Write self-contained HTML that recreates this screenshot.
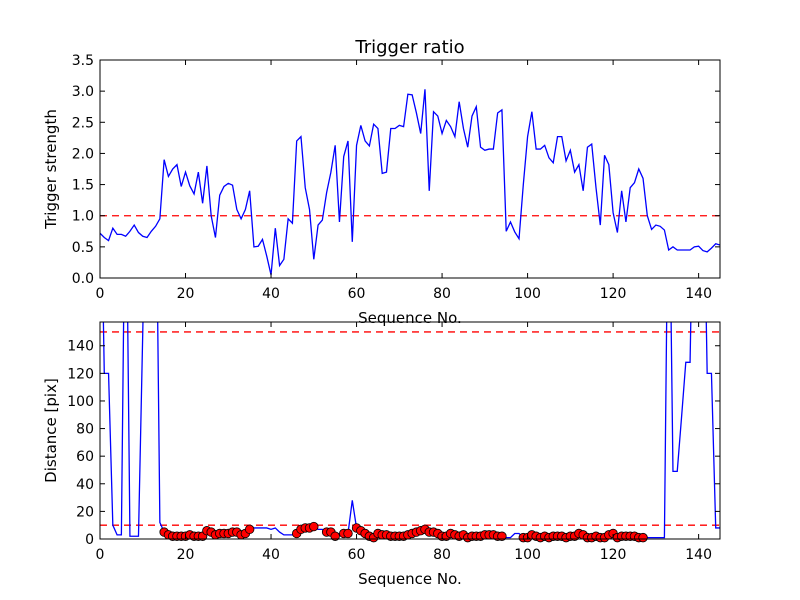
<!DOCTYPE html>
<html><head><meta charset="utf-8"><style>
body{margin:0;background:#fff}
svg{display:block;font-family:"DejaVu Sans","Liberation Sans",sans-serif}
</style></head><body>
<svg id="chart" width="800" height="600" viewBox="0 0 800 600">
<rect width="800" height="600" fill="#fff"/>
<defs>
<clipPath id="c1"><rect x="100" y="60" width="620" height="218"/></clipPath>
<clipPath id="c2"><rect x="100" y="322" width="620" height="217"/></clipPath>
</defs>
<text x="410" y="53" font-size="18" text-anchor="middle">Trigger ratio</text>
<g id="g1"></g><g id="g2"></g>
</svg>
<script>
const ratioValues=[0.72,0.65,0.6,0.8,0.7,0.7,0.67,0.75,0.85,0.73,0.67,0.65,0.75,0.83,0.95,1.9,1.63,1.75,1.82,1.47,1.7,1.48,1.35,1.7,1.2,1.8,1.0,0.65,1.33,1.47,1.52,1.49,1.1,0.95,1.1,1.4,0.5,0.51,0.62,0.35,0.05,0.8,0.2,0.3,0.95,0.88,2.2,2.27,1.45,1.1,0.3,0.85,0.93,1.37,1.7,2.13,0.9,1.95,2.2,0.58,2.13,2.45,2.2,2.12,2.47,2.4,1.68,1.7,2.4,2.4,2.45,2.43,2.95,2.94,2.65,2.32,3.03,1.4,2.67,2.6,2.32,2.53,2.43,2.27,2.83,2.4,2.1,2.6,2.75,2.1,2.05,2.07,2.07,2.65,2.7,0.75,0.9,0.74,0.63,1.5,2.27,2.67,2.07,2.07,2.13,1.93,1.85,2.27,2.27,1.88,2.05,1.7,1.82,1.4,2.1,2.15,1.45,0.85,1.97,1.82,1.05,0.73,1.4,0.9,1.45,1.53,1.75,1.6,1.0,0.78,0.85,0.83,0.77,0.45,0.5,0.45,0.45,0.45,0.45,0.5,0.51,0.44,0.42,0.48,0.55,0.53];
const distValues=[300,120,120,10,3,3,300,2,2,2,150,300,300,300,12,5,3,2,2,2,2,3,2,2,2,6,5,3,4,4,4,5,5,3,4,7,8,8,8,8,7,8,5,3,3,3,4,7,8,8,9,7,7,5,5,2,4,4,4,28,8,6,4,2,1,4,3,3,2,2,2,2,3,4,5,6,7,5,5,4,2,2,4,3,2,3,1,2,2,2,3,3,3,2,2,1,1,4,4,1,1,3,2,1,2,1,2,2,2,1,2,2,4,3,1,1,2,1,1,3,4,1,2,2,2,2,1,1,1,1,1,1,1,300,49,49,88,128,128,300,300,300,120,120,8,8];
const markerMask=[0,0,0,0,0,0,0,0,0,0,0,0,0,0,0,1,1,1,1,1,1,1,1,1,1,1,1,1,1,1,1,1,1,1,1,1,0,0,0,0,0,0,0,0,0,0,1,1,1,1,1,0,0,1,1,1,0,1,1,0,1,1,1,1,1,1,1,1,1,1,1,1,1,1,1,1,1,1,1,1,1,1,1,1,1,1,1,1,1,1,1,1,1,1,1,0,0,0,0,1,1,1,1,1,1,1,1,1,1,1,1,1,1,1,1,1,1,1,1,1,1,1,1,1,1,1,1,1,0,0,0,0,0,0,0,0,0,0,0,0,0,0,0,0,0,0];
const xTicks=[0,20,40,60,80,100,120,140];
const yTicks1=[0,0.5,1,1.5,2,2.5,3,3.5];
const yTicks2=[0,20,40,60,80,100,120,140];
const threshold1=[1.0];
const thresholds2=[10,150];

const NS="http://www.w3.org/2000/svg";
function el(p,t,a){const e=document.createElementNS(NS,t);for(const k in a)e.setAttribute(k,a[k]);p.appendChild(e);return e;}
const X0=100,X1=720,XMAX=145;
const sx=v=>X0+v*(X1-X0)/XMAX;
function panel(g,top,bot,ymax,vals,yt,fmt,thr,ylabel,clip,mask,nm){
  const sy=v=>bot-v*(bot-top)/ymax;
  thr.forEach(t=>{const l=el(g,'line',{x1:X0,x2:X1,y1:sy(t),y2:sy(t),stroke:'#f00','stroke-width':1.3,'stroke-dasharray':'7,5'});
    
    });
  const pts=vals.map((v,i)=>sx(i).toFixed(2)+','+sy(v).toFixed(2)).join(' ');
  const pl=el(g,'polyline',{points:pts,fill:'none',stroke:'#00f','stroke-width':1.3,'clip-path':'url(#'+clip+')'});
  
  
  if(mask){vals.forEach((v,i)=>{if(mask[i]){const c=el(g,'circle',{cx:sx(i),cy:sy(v),r:4.3,fill:'#f00',stroke:'#000','stroke-width':0.8});
    
    }});}
  const fr=el(g,'rect',{x:X0,y:top,width:X1-X0,height:bot-top,fill:'none',stroke:'#000','stroke-width':1});
  
  
  xTicks.forEach(t=>{const x=sx(t);
    el(g,'line',{x1:x,x2:x,y1:bot,y2:bot-5,stroke:'#000'});el(g,'line',{x1:x,x2:x,y1:top,y2:top+5,stroke:'#000'});
    const tx=el(g,'text',{x:x,y:bot+20,'font-size':14,'text-anchor':'middle'});tx.textContent=t;
    
    });
  yt.forEach(t=>{const y=sy(t);
    el(g,'line',{x1:X0,x2:X0+5,y1:y,y2:y,stroke:'#000'});el(g,'line',{x1:X1,x2:X1-5,y1:y,y2:y,stroke:'#000'});
    const tx=el(g,'text',{x:X0-6,y:y+5,'font-size':14,'text-anchor':'end'});tx.textContent=fmt(t);
    
    });
  const xl=el(g,'text',{x:410,y:bot+45,'font-size':15,'text-anchor':'middle'});xl.textContent='Sequence No.';
  
  
  const cy=(top+bot)/2;
  const yl=el(g,'text',{x:56,y:cy,'font-size':15,'text-anchor':'middle',transform:'rotate(-90 56 '+cy+')'});yl.textContent=ylabel;
  
  
}
panel(document.getElementById('g1'),60,278,3.5,ratioValues,yTicks1,t=>t.toFixed(1),threshold1,'Trigger strength','c1',null,'ratio');
panel(document.getElementById('g2'),322,539,157.2,distValues,yTicks2,t=>String(t),thresholds2,'Distance [pix]','c2',markerMask,'distance');
</script>
</body></html>
